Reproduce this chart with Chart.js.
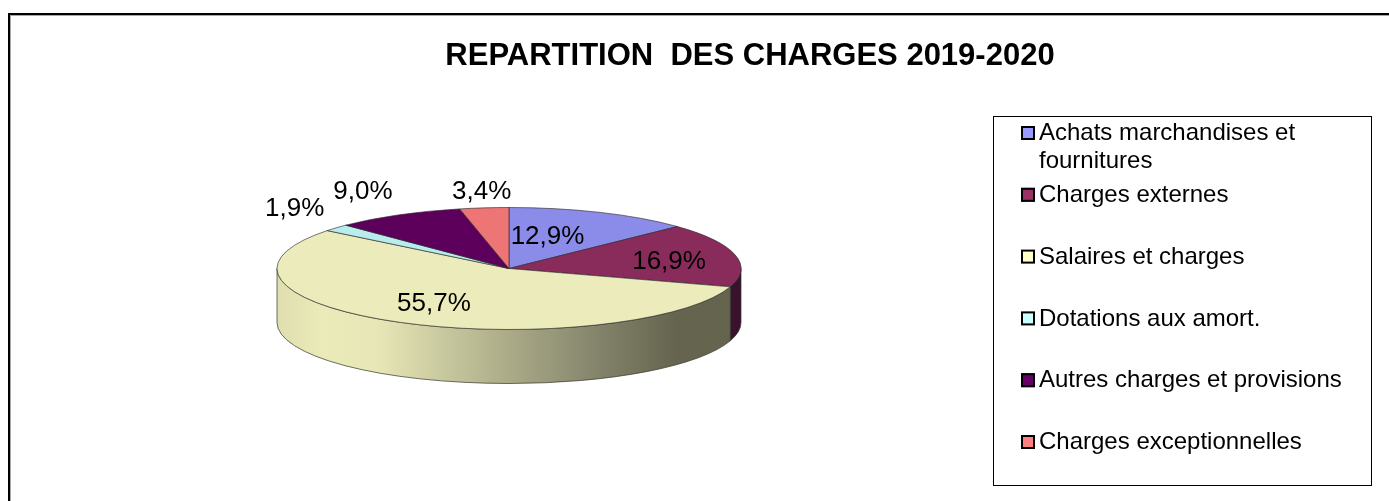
<!DOCTYPE html>
<html><head><meta charset="utf-8">
<style>html,body{margin:0;padding:0;background:#fff}#w{position:absolute;left:0;top:0;width:1389px;height:501px}</style>
<script src="https://cdn.jsdelivr.net/npm/chart.js@4/dist/chart.umd.min.js"></script>
</head><body><div id="w"><canvas id="c" width="1389" height="501"></canvas></div>
<script>
const chartTitle = 'REPARTITION  DES CHARGES 2019-2020';
const categories = ['Achats marchandises et fournitures','Charges externes','Salaires et charges','Dotations aux amort.','Autres charges et provisions','Charges exceptionnelles'];
const legendLines = [['Achats marchandises et','fournitures'],['Charges externes'],['Salaires et charges'],['Dotations aux amort.'],['Autres charges et provisions'],['Charges exceptionnelles']];
const values = [12.9,16.9,55.7,1.9,9.0,3.4];
const valueLabels = ['12,9%','16,9%','55,7%','1,9%','9,0%','3,4%'];
const topColors = ['#8b8bea','#8a2c5b','#ecebbb','#b8eced','#5c005c','#ee7575'];
const legendColors = ['#9999ff','#993366','#ffffcc','#ccffff','#660066','#ff8080'];
const labelFactors = [[.42,.57],[.708,.5],[.69,.65],[1.24,1.47],[1.32,1.43],[1.1,1.27]];

const GEO = {cx:509,cy:268.5,rx:232,ry:61,depth:54};
const FONT = '"Liberation Sans", Arial, sans-serif';

const pie3d = {
  id:'pie3d',
  beforeDraw(chart){
    const ctx=chart.ctx;
    ctx.save();
    ctx.fillStyle='#fff';ctx.fillRect(0,0,1389,501);
    ctx.fillStyle='#a8a8a8';
    ctx.fillRect(10,15,1379,1);ctx.fillRect(10,15,1,486);
    ctx.fillStyle='#000';
    ctx.fillRect(8,13,1381,2);ctx.fillRect(8,13,2,488);
    ctx.restore();
  },
  afterLayout(chart){
    const t=chart.titleBlock;
    if(t){t.left=445;t.right=1055;t.top=38;t.bottom=74;}
  },
  beforeDatasetDraw(chart,args){
    const ctx=chart.ctx, meta=chart.getDatasetMeta(args.index), g=GEO;
    const arcs=meta.data;
    const grad=ctx.createLinearGradient(g.cx-g.rx,0,g.cx+g.rx,0);
    [[0,'#dedeae'],[.1,'#ebebba'],[.22,'#e6e6b6'],[.45,'#b5b590'],[.7,'#82826a'],[.86,'#65654f'],[1,'#65654f']].forEach(s=>grad.addColorStop(s[0],s[1]));
    const sideFill=['#5a5a8a','#3b122e',grad,'#6e8a8a','#360036','#8a4444'];
    ctx.save();
    arcs.forEach((a,i)=>{
      const p=a.getProps(['startAngle','endAngle'],true);
      const lo=Math.max(p.startAngle,0), hi=Math.min(p.endAngle,Math.PI);
      if(hi<=lo) return;
      ctx.beginPath();
      ctx.ellipse(g.cx,g.cy,g.rx,g.ry,0,lo,hi);
      ctx.ellipse(g.cx,g.cy+g.depth,g.rx,g.ry,0,hi,lo,true);
      ctx.closePath();
      ctx.fillStyle=sideFill[i];ctx.fill();
      ctx.strokeStyle='#33332a';ctx.lineWidth=.7;ctx.stroke();
    });
    const a0=arcs[0];
    ctx.translate(g.cx,g.cy);
    ctx.scale(g.rx/a0.outerRadius,g.ry/a0.outerRadius);
    ctx.translate(-a0.x,-a0.y);
    arcs.forEach(a=>a.draw(ctx,chart.chartArea));
    ctx.restore();
    return false;
  },
  afterDatasetsDraw(chart){
    const ctx=chart.ctx,g=GEO,arcs=chart.getDatasetMeta(0).data;
    ctx.save();
    ctx.fillStyle='#000';ctx.textAlign='center';ctx.textBaseline='middle';
    ctx.font='26px '+FONT;
    arcs.forEach((a,i)=>{
      const mid=(a.startAngle+a.endAngle)/2;
      ctx.fillText(valueLabels[i],g.cx+labelFactors[i][0]*g.rx*Math.cos(mid),g.cy+labelFactors[i][1]*g.ry*Math.sin(mid));
    });
    ctx.strokeStyle='#000';ctx.lineWidth=1;
    ctx.fillStyle='#fff';
    ctx.fillRect(993.5,116.5,378,369);ctx.strokeRect(993.5,116.5,378,369);
    ctx.textAlign='left';ctx.font='24px '+FONT;
    legendLines.forEach((lines,i)=>{
      const y=133+i*61.8;
      ctx.fillStyle=legendColors[i];ctx.fillRect(1021,y-7,14,14);
      ctx.strokeStyle='#000';ctx.lineWidth=2;ctx.strokeRect(1022,y-6,12,12);
      ctx.fillStyle='#000';
      lines.forEach((l,k)=>ctx.fillText(l,1039,y+.5+k*28));
    });
    ctx.restore();
  }
};

new Chart(document.getElementById('c'),{
  type:'pie',
  data:{labels:categories,datasets:[{data:values,backgroundColor:topColors,borderColor:'#2a2a2a',borderWidth:1,radius:232}]},
  options:{
    responsive:false,animation:false,
    layout:{padding:0},
    plugins:{
      legend:{display:false},tooltip:{enabled:false},
      title:{display:true,text:chartTitle,color:'#000',font:{family:FONT,size:31,weight:'bold'},padding:0}
    }
  },
  plugins:[pie3d]
});
</script></body></html>
